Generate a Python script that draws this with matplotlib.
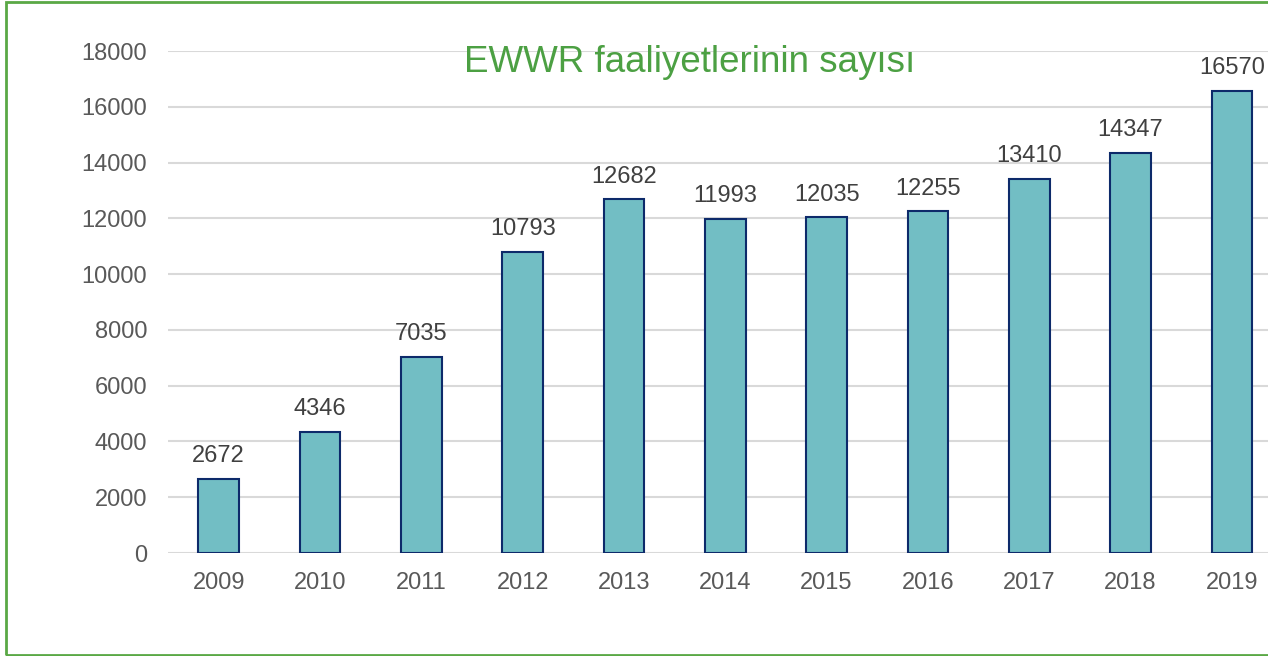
import matplotlib
matplotlib.use("Agg")
from matplotlib import pyplot as plt
from matplotlib.patches import Rectangle

years = ["2009", "2010", "2011", "2012", "2013", "2014", "2015", "2016", "2017", "2018", "2019"]
activities = [2672, 4346, 7035, 10793, 12682, 11993, 12035, 12255, 13410, 14347, 16570]
yticks = [0, 2000, 4000, 6000, 8000, 10000, 12000, 14000, 16000, 18000]

plt.rcParams['font.family'] = ['Liberation Sans', 'DejaVu Sans']

fig = plt.figure(figsize=(12.68, 6.56), dpi=100)
ax = fig.add_axes([0.1325, 0.157, 0.879, 0.765])

x = range(len(years))
ax.bar(x, activities, width=0.4, color="#72BEC4", edgecolor="#0D2A6A", linewidth=1.5, zorder=3)

for xi, v in zip(x, activities):
    ax.annotate(str(v), (xi, v), xytext=(0, 12), textcoords="offset points",
                ha="center", va="baseline", fontsize=17, color="#404040")

ax.set_xlim(-0.5, 10.5)
ax.set_ylim(0, 18000)
ax.set_yticks(yticks)
ax.set_xticks(list(x))
ax.set_xticklabels(years)
ax.tick_params(axis="both", length=0, labelsize=17, labelcolor="#595959")
ax.tick_params(axis="y", pad=15)
ax.tick_params(axis="x", pad=14)
ax.grid(axis="y", color="#D9D9D9", linewidth=1.5, zorder=0)
for s in ax.spines.values():
    s.set_visible(False)

# title sits inside the plot area
fig.text(690 / 1268, 1 - 62 / 656, "EWWR faaliyetlerinin sayısı",
         ha="center", va="center", fontsize=26.5, color="#4CA043")

fig.patches.append(Rectangle((6 / 1268, 1 / 656), 1.1, 653 / 656, transform=fig.transFigure,
                             fill=False, edgecolor="#5AA845", linewidth=2))

fig.savefig("out.png", dpi=100)
